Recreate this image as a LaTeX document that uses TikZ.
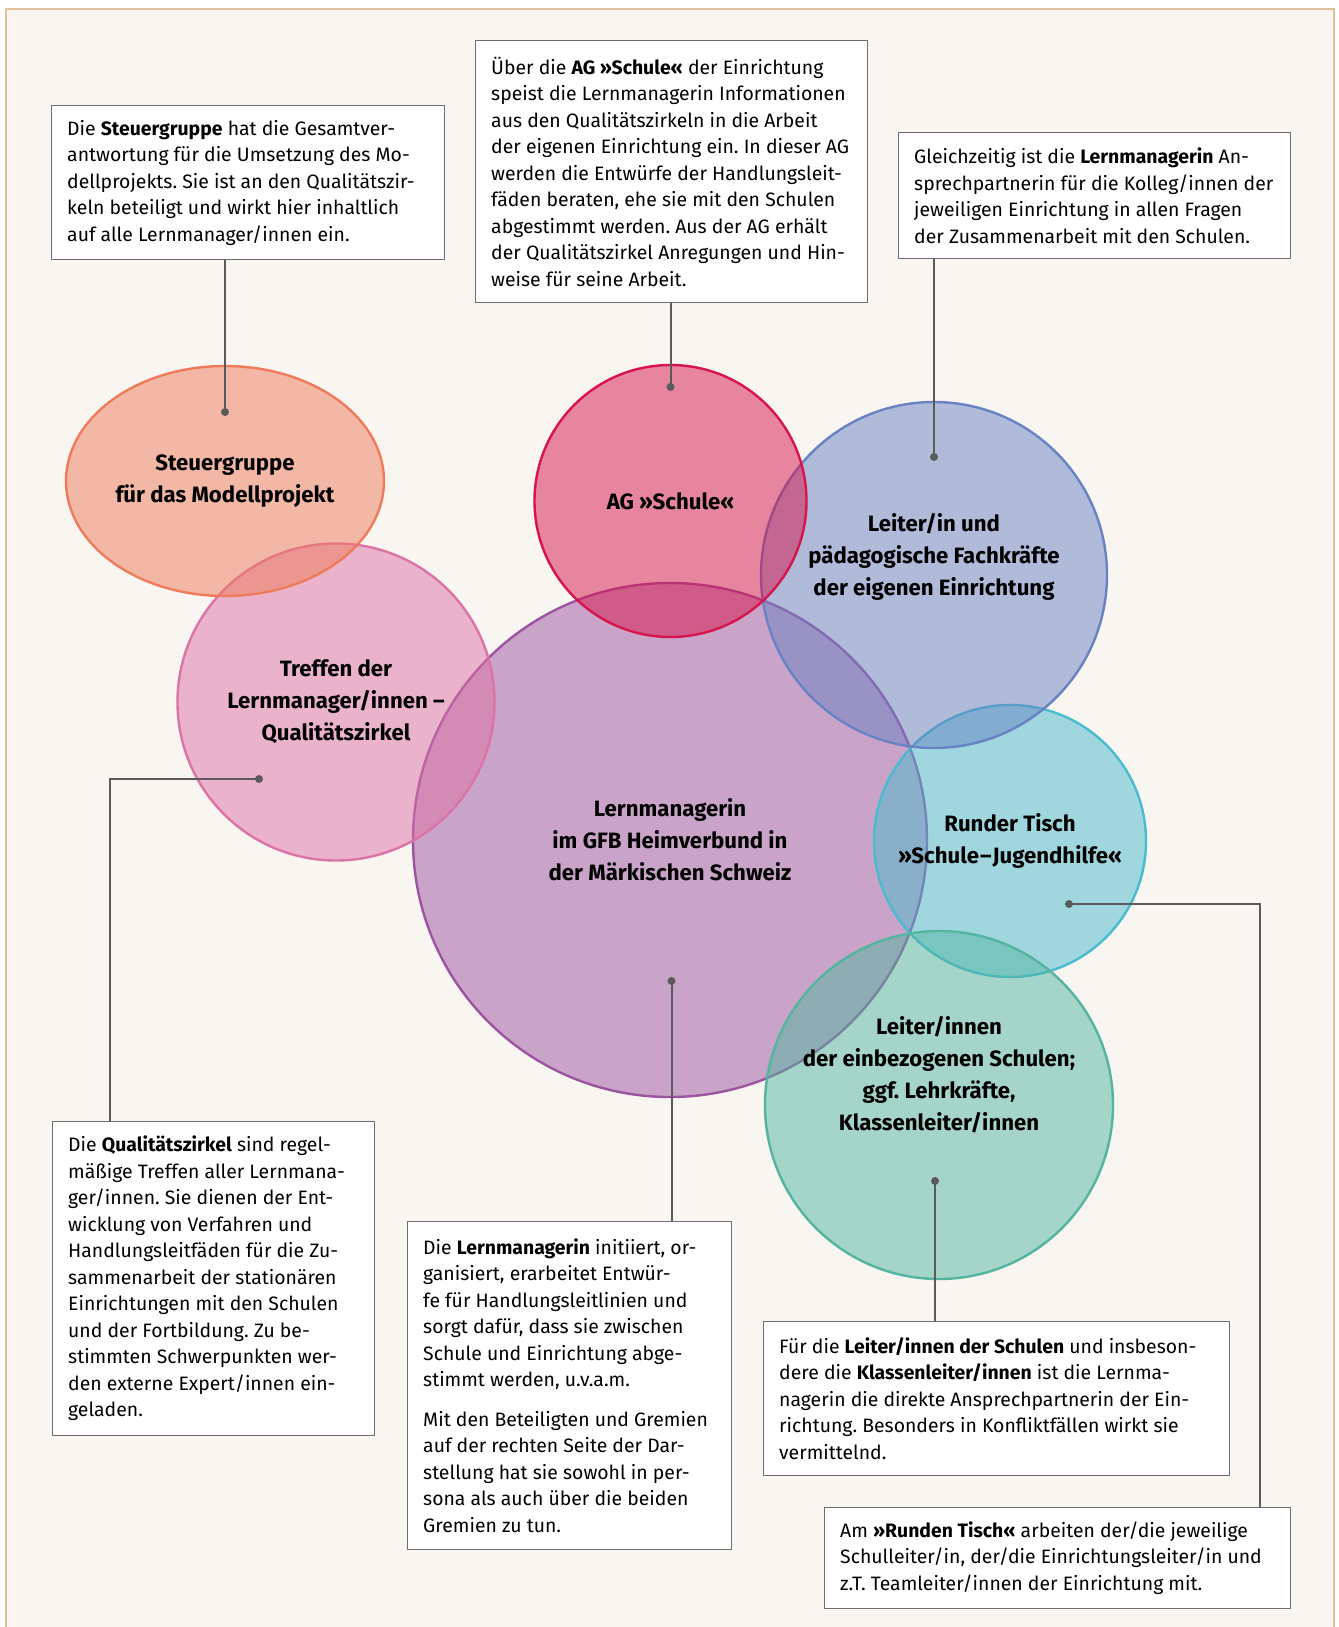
\documentclass[tikz,border=0pt]{standalone}
\usepackage{fontspec}
\setmainfont{Fira Sans}
\usetikzlibrary{shapes.geometric}
\frenchspacing
\definecolor{bgc}{HTML}{F9F5F1}
\definecolor{framec}{HTML}{E0C09C}
\definecolor{boxc}{HTML}{6E6E6E}
\definecolor{connc}{HTML}{5A5A5A}
\definecolor{steuerc}{RGB}{239,123,91}
\definecolor{trefc}{RGB}{220,115,166}
\definecolor{agc}{RGB}{215,20,76}
\definecolor{bluec}{RGB}{104,130,196}
\definecolor{purpc}{RGB}{157,84,160}
\definecolor{cyanc}{RGB}{73,187,207}
\definecolor{greenc}{RGB}{83,181,160}
\begin{document}
\begin{tikzpicture}[x=1pt,y=-1pt,
  bubble/.style={circle, draw=#1, fill=#1, fill opacity=0.5, line width=2.4pt, inner sep=0pt},
  lbl/.style={font=\bfseries\fontsize{22.2}{32}\selectfont, align=center, inner sep=0pt, text=black},
  infobox/.style={draw=boxc, line width=1.3pt, fill=white, inner sep=0pt, anchor=north west},
  infotext/.style={align=left, anchor=west, inner sep=0pt, font=\fontsize{19.4}{26.5}\selectfont},
  conn/.style={draw=connc, line width=2pt},
  dot/.style={circle, fill=connc, inner sep=0pt, minimum size=8pt}]
\useasboundingbox (0,0) rectangle (1338,1627);
\fill[bgc] (6,9) rectangle (1334,1660);
\draw[framec, line width=2pt] (6,9) rectangle (1334,1660);

% bubbles
\node[bubble=purpc, minimum size=514pt] (lm) at (670,840) {};
\node[bubble=cyanc, minimum size=272pt] (rt) at (1010,841) {};
\node[bubble=greenc, minimum size=348pt] (ls) at (939,1105) {};
\node[bubble=bluec, minimum size=346pt] (lp) at (934,575) {};
\node[bubble=agc, minimum size=272pt] (ag) at (670.5,501) {};
\node[bubble=trefc, minimum size=317pt] (tr) at (336,702) {};
\node[bubble=steuerc, ellipse, minimum width=318pt, minimum height=230pt] (sg) at (225,481) {};

% labels
\node[lbl] (sgl) at (sg.center) {Steuergruppe\\für das Modellprojekt};
\node[lbl] (trl) at (tr.center) {Treffen der\\Lernmanager/innen –\\Qualitätszirkel};
\node[lbl] (agl) at (ag.center) {AG »Schule«};
\node[lbl] (lpl) at ([yshift=18pt]lp.center) {Leiter/in und\\pädagogische Fachkräfte\\der eigenen Einrichtung};
\node[lbl] (lml) at (lm.center) {Lernmanagerin\\im GFB Heimverbund in\\der Märkischen Schweiz};
\node[lbl] (rtl) at (rt.center) {Runder Tisch\\»Schule\kern1pt–\kern1pt Jugendhilfe«};
\node[lbl] (lsl) at ([yshift=30pt]ls.center) {Leiter/innen\\der einbezogenen Schulen;\\ggf. Lehrkräfte,\\Klassenleiter/innen};

% dots
\node[dot] (d1) at (225,412) {};
\node[dot] (d2) at (670.5,387) {};
\node[dot] (d3) at (934,457) {};
\node[dot] (d4) at (259,779) {};
\node[dot] (d5) at (671.5,981) {};
\node[dot] (d6) at (935,1181) {};
\node[dot] (d7) at (1069,904) {};
\coordinate (k4) at (110,779);
\coordinate (k7) at (1260,904);

% boxes
\node[infobox, minimum width=393pt, minimum height=154pt] (b1) at (51,105) {};
\node[infotext] (b1t) at ([xshift=16pt]b1.west)
{Die \textbf{Steuergruppe} hat die Gesamtver-\\
antwortung für die Umsetzung des Mo-\\
dellprojekts. Sie ist an den Qualitätszir-\\
keln beteiligt und wirkt hier inhaltlich\\
auf alle Lernmanager/innen ein.};
\node[infobox, minimum width=392pt, minimum height=262pt] (b2) at (475,40) {};
\node[infotext] (b2t) at ([xshift=16pt]b2.west)
{Über die \textbf{AG »Schule«} der Einrichtung\\
speist die Lernmanagerin Informationen\\
aus den Qualitätszirkeln in die Arbeit\\
der eigenen Einrichtung ein. In dieser AG\\
werden die Entwürfe der Handlungsleit-\\
fäden beraten, ehe sie mit den Schulen\\
abgestimmt werden. Aus der AG erhält\\
der Qualitätszirkel Anregungen und Hin-\\
weise für seine Arbeit.};
\node[infobox, minimum width=392pt, minimum height=126pt] (b3) at (898,132) {};
\node[infotext] (b3t) at ([xshift=16pt]b3.west)
{Gleichzeitig ist die \textbf{Lernmanagerin} An-\\
sprechpartnerin für die Kolleg/innen der\\
jeweiligen Einrichtung in allen Fragen\\
der Zusammenarbeit mit den Schulen.};
\node[infobox, minimum width=322pt, minimum height=314pt] (b4) at (52,1121) {};
\node[infotext] (b4t) at ([xshift=16pt]b4.west)
{Die \textbf{Qualitätszirkel} sind regel-\\
mäßige Treffen aller Lernmana-\\
ger/innen. Sie dienen der Ent-\\
wicklung von Verfahren und\\
Handlungsleitfäden für die Zu-\\
sammenarbeit der stationären\\
Einrichtungen mit den Schulen\\
und der Fortbildung. Zu be-\\
stimmten Schwerpunkten wer-\\
den externe Expert/innen ein-\\
geladen.};
\node[infobox, minimum width=324pt, minimum height=328pt] (b5) at (407,1221) {};
\node[infotext] (b5t) at ([xshift=16pt]b5.west)
{Die \textbf{Lernmanagerin} initiiert, or-\\
ganisiert, erarbeitet Entwür-\\
fe für Handlungsleitlinien und\\
sorgt dafür, dass sie zwischen\\
Schule und Einrichtung abge-\\
stimmt werden, u.v.a.m.\\[13pt]
Mit den Beteiligten und Gremien\\
auf der rechten Seite der Dar-\\
stellung hat sie sowohl in per-\\
sona als auch über die beiden\\
Gremien zu tun.};
\node[infobox, minimum width=466pt, minimum height=154pt] (b6) at (763,1321) {};
\node[infotext] (b6t) at ([xshift=16pt]b6.west)
{Für die \textbf{Leiter/innen der Schulen} und insbeson-\\
dere die \textbf{Klassenleiter/innen} ist die Lernma-\\
nagerin die direkte Ansprechpartnerin der Ein-\\
richtung. Besonders in Konfliktfällen wirkt sie\\
vermittelnd.};
\node[infobox, minimum width=466pt, minimum height=101pt] (b7) at (824,1507) {};
\node[infotext] (b7t) at ([xshift=16pt]b7.west)
{Am \textbf{»Runden Tisch«} arbeiten der/die jeweilige\\
Schulleiter/in, der/die Einrichtungsleiter/in und\\
z.T. Teamleiter/innen der Einrichtung mit.};

% connectors (box edge to dot)
\draw[conn] (b1.south -| d1.center) -- (d1.center);
\draw[conn] (b2.south -| d2.center) -- (d2.center);
\draw[conn] (b3.south -| d3.center) -- (d3.center);
\draw[conn] (d4.center) -- (k4) -- (k4 |- b4.north);
\draw[conn] (d5.center) -- (d5.center |- b5.north);
\draw[conn] (d6.center) -- (d6.center |- b6.north);
\draw[conn] (d7.center) -- (k7) -- (k7 |- b7.north);
\end{tikzpicture}
\end{document}
